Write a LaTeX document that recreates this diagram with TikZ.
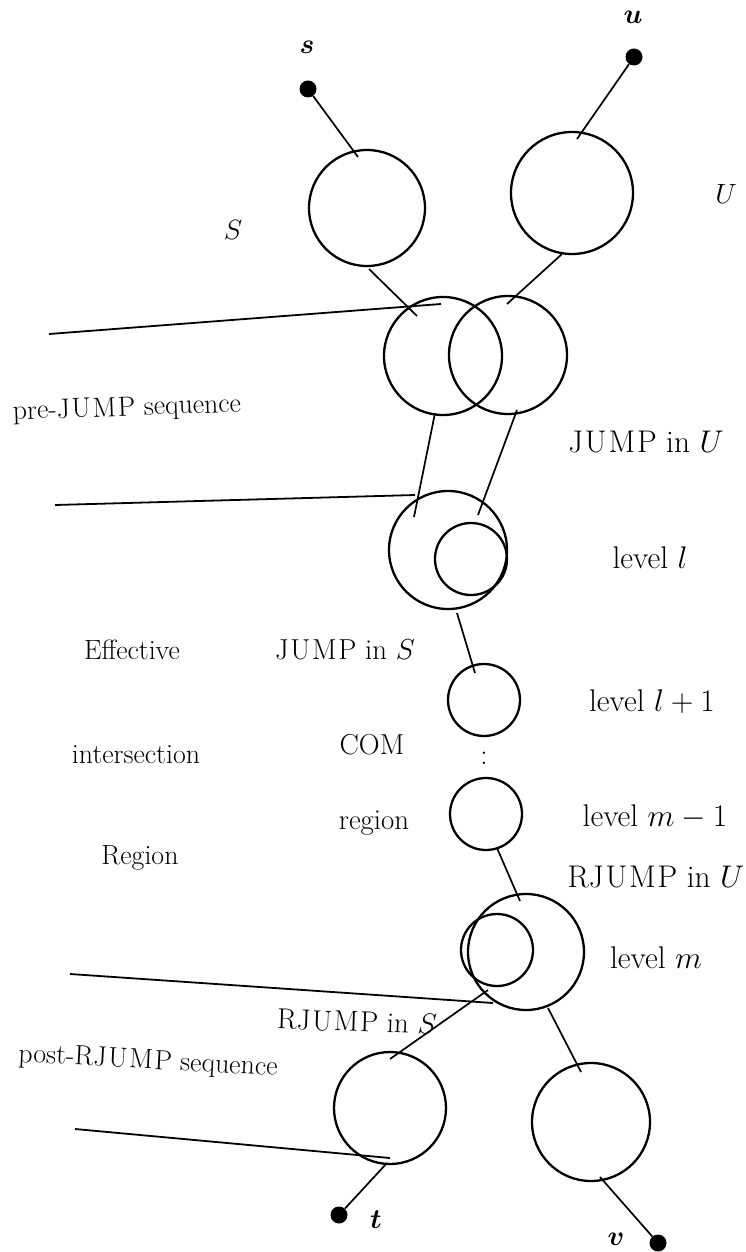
\documentclass[tikz,border=0pt]{standalone}
\usepackage{amsmath}
\usepackage{graphicx}
\newcommand\txtL[1]{\scalebox{1.12}{#1}}
\newcommand\txtM[1]{\scalebox{1.16}{#1}}
\newcommand\txtR[1]{\scalebox{1.26}{#1}}
\begin{document}
\begin{tikzpicture}[x=1pt,y=-1pt,
  ring/.style={draw,circle,line width=2.3pt,inner sep=0pt,minimum size=#1},
  dot/.style={fill,circle,inner sep=0pt,minimum size=17pt},
  conn/.style={line width=1.7pt},
  lead/.style={line width=1.8pt},
  lbl/.style={font=\fontsize{24.88}{30}\selectfont,inner sep=0pt}]
\useasboundingbox (0,0) rectangle (746,1252);
% circles
\node[ring=116pt] (cS) at (367,208) {};
\node[ring=122pt] (cU) at (572,193) {};
\node[ring=118pt] (cA) at (443,356) {};
\node[ring=118pt] (cB) at (508,355) {};
\node[ring=118pt] (cL) at (448,550) {};
\node[ring=72pt] (cLi) at (471,559) {};
\node[ring=72pt] (cL1) at (484,700) {};
\node[ring=72pt] (cM1) at (486,814) {};
\node[ring=116pt] (cM) at (526,952) {};
\node[ring=72pt] (cMi) at (497,950) {};
\node[ring=112pt] (cT) at (390,1108) {};
\node[ring=118pt] (cV) at (591,1122) {};
% terminal dots
\node[dot] (s) at (308,89) {};
\node[dot] (u) at (634,57) {};
\node[dot] (t) at (339,1215) {};
\node[dot] (v) at (658,1243) {};
% connector end points
\coordinate (sIn) at (358,157);
\coordinate (uIn) at (577,139);
\coordinate (Sout) at (369,269);
\coordinate (Ain) at (417,316);
\coordinate (Uout) at (562,254);
\coordinate (Bin) at (507,304);
\coordinate (Aout) at (435,413);
\coordinate (Lin) at (414,517);
\coordinate (Bout) at (517,410);
\coordinate (Liin) at (478,515);
\coordinate (Lout) at (457,613);
\coordinate (L1in) at (475,673);
\coordinate (M1out) at (497,848);
\coordinate (Min) at (520,901);
\coordinate (Mtl) at (488,990);
\coordinate (Tin) at (390,1059);
\coordinate (Mtr) at (548,1008);
\coordinate (Vin) at (581,1072);
\coordinate (Tout) at (387,1163);
\coordinate (Vout) at (600,1177);
% connectors
\draw[conn] (s) -- (sIn);
\draw[conn] (u) -- (uIn);
\draw[conn] (Sout) -- (Ain);
\draw[conn] (Uout) -- (Bin);
\draw[conn] (Aout) -- (Lin);
\draw[conn] (Bout) -- (Liin);
\draw[conn] (Lout) -- (L1in);
\draw[conn] (M1out) -- (Min);
\draw[conn] (Mtl) -- (Tin);
\draw[conn] (Mtr) -- (Vin);
\draw[conn] (Tout) -- (t);
\draw[conn] (Vout) -- (v);
% lead lines
\coordinate (l1a) at (49,334);   \coordinate (l1b) at (441,304);
\coordinate (l2a) at (55,505);   \coordinate (l2b) at (415,495);
\coordinate (l3a) at (70,974);   \coordinate (l3b) at (493,1003);
\coordinate (l4a) at (75,1129);  \coordinate (l4b) at (390,1158);
\draw[lead] (l1a) -- (l1b);
\draw[lead] (l2a) -- (l2b);
\draw[lead] (l3a) -- (l3b);
\draw[lead] (l4a) -- (l4b);
% labels
\node[lbl] (ls) at (307,47) {\txtL{$\boldsymbol{s}$}};
\node[lbl] (lu) at (633,17) {\txtL{$\boldsymbol{u}$}};
\node[lbl] (lt) at (376,1220) {\txtL{$\boldsymbol{t}$}};
\node[lbl] (lv) at (616,1239) {\txtL{$\boldsymbol{v}$}};
\node[lbl] (lS) at (233,230) {\txtL{$S$}};
\node[lbl] (lU) at (726,194) {\txtL{$U$}};
\node[lbl,rotate=2] (pre) at (127,409) {\txtL{pre-J\kern1.5pt U\kern1.5pt M\kern1.5pt P sequence}};
\node[lbl] (jU) at (646,442) {\txtR{J\kern1.5pt U\kern1.5pt M\kern1.5pt P in $U$}};
\node[lbl] (lvl) at (650,558) {\txtR{level $l$}};
\node[lbl] (eff) at (132,650) {\txtL{Effective}};
\node[lbl] (jS) at (345,650) {\txtM{J\kern1.5pt U\kern1.5pt M\kern1.5pt P in $S$}};
\node[lbl] (lvl1) at (652,702) {\txtR{level $l+1$}};
\node[lbl] (inter) at (136,755) {\txtL{intersection}};
\node[lbl] (com) at (372,745) {\txtM{COM}};
\node[lbl] (dots) at (484,758) {\txtM{:}};
\node[lbl] (lvm1) at (655,817) {\txtR{level $m-1$}};
\node[lbl] (reg) at (374,823) {\txtM{region}};
\node[lbl] (Reg) at (140,858) {\txtL{Region}};
\node[lbl] (rjU) at (656,877) {\txtR{RJ\kern1.5pt U\kern1.5pt M\kern1.5pt P in $U$}};
\node[lbl] (lvm) at (656,958) {\txtR{level $m$}};
\node[lbl,rotate=-2] (rjS) at (357,1022) {\txtM{RJ\kern1.5pt U\kern1.5pt M\kern1.5pt P in $S$}};
\node[lbl,rotate=-3] (post) at (148,1062) {\txtL{post-RJ\kern1.5pt U\kern1.5pt M\kern1.5pt P sequence}};
\end{tikzpicture}
\end{document}
